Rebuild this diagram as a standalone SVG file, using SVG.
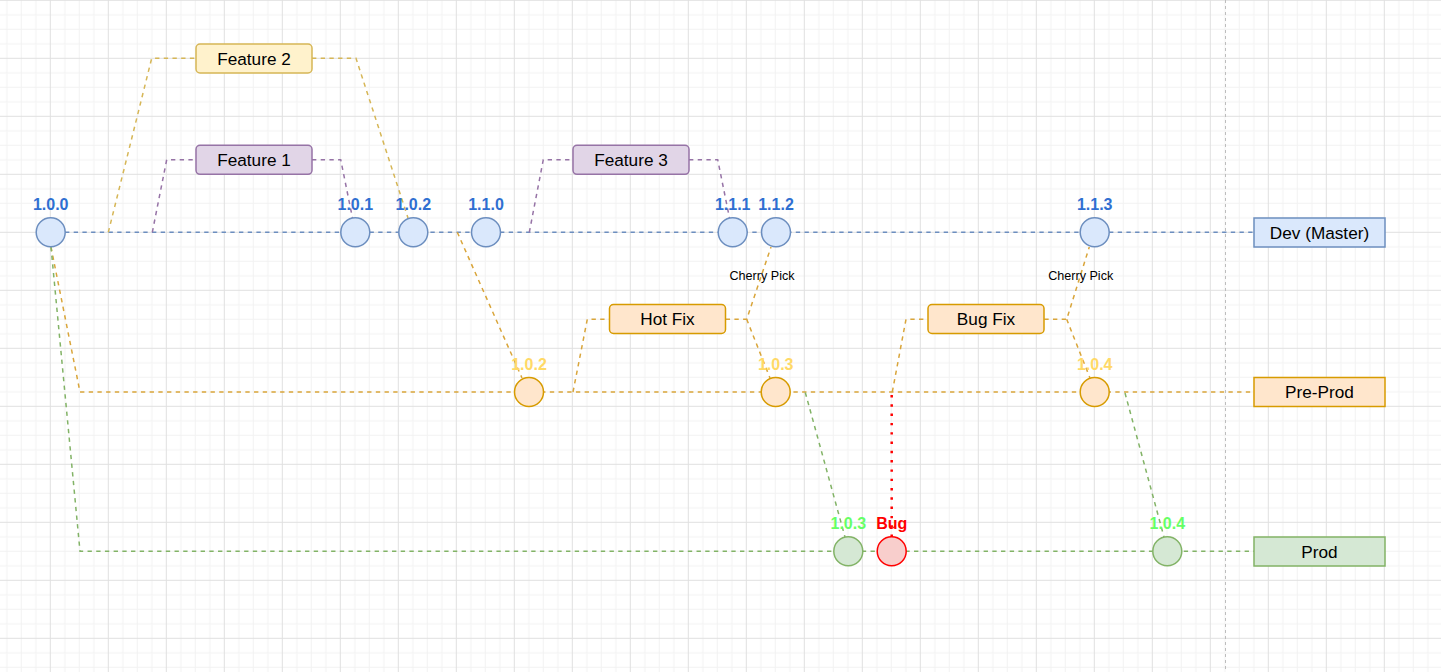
<svg xmlns="http://www.w3.org/2000/svg" width="1441" height="672" viewBox="0 0 1441 672">
<defs>
<pattern id="grid" x="49.8" y="-0.2" width="58" height="58" patternUnits="userSpaceOnUse">
<path d="M15,0 V58 M29.5,0 V58 M44,0 V58 M0,15 H58 M0,29.5 H58 M0,44 H58" stroke="#f2f2f2" stroke-width="1" fill="none"/>
<path d="M0.5,0 V58 M0,0.5 H58" stroke="#e0e0e0" stroke-width="1" fill="none"/>
</pattern>
<style>
.c{stroke-width:1.5;fill:none;stroke-dasharray:4.35 4.35}
.blue{stroke:#6c8ebf}.org{stroke:#d9a53a}.grn{stroke:#82b366}.pur{stroke:#9673a6}.yel{stroke:#d6b656}
.bug{stroke:#ff0000;stroke-width:2.5;fill:none;stroke-dasharray:2.4 6.9}
.n{stroke-width:1.5}
.dev{fill:#dae8fc;stroke:#6c8ebf}.pre{fill:#ffe6cc;stroke:#d79b00}.prd{fill:#d5e8d4;stroke:#82b366}.red{fill:#f8cecc;stroke:#ff0000}
.f2{fill:#fff2cc;stroke:#d6b656}.f1{fill:#e1d5e7;stroke:#9673a6}
.v{font-family:"Liberation Sans",Arial,sans-serif;font-weight:bold;font-size:16px;text-anchor:middle}
.vb{fill:#2f6fd1}.vo{fill:#ffd966}.vg{fill:#66ff66}.vr{fill:#ff0000}
.t{font-family:"Liberation Sans",Arial,sans-serif;font-size:17.2px;text-anchor:middle;fill:#000}
.cp{font-family:"Liberation Sans",Arial,sans-serif;font-size:12.6px;text-anchor:middle;fill:#000}
</style>
</defs>
<rect width="1441" height="672" fill="#ffffff"/>
<rect width="1441" height="672" fill="url(#grid)"/>
<line x1="1225.5" y1="0" x2="1225.5" y2="672" stroke="#bdbdbd" stroke-width="1" stroke-dasharray="3 3"/>

<g id="connectors">
<path class="c blue" d="M65,232.3 H1254"/>
<path class="c org" d="M51,247 L80,392 H1254"/>
<path class="c grn" d="M51,247 L80,551.3 H1254"/>
<path class="c yel" d="M108.3,232.3 L151.7,58.3 H196"/>
<path class="c yel" d="M312,58.3 H356 L408,218"/>
<path class="c pur" d="M152.3,232.3 L166.7,159.7 H196"/>
<path class="c pur" d="M312,159.7 H340.7 L352.5,218"/>
<path class="c pur" d="M529.3,232.3 L543.3,159.7 H572.7"/>
<path class="c pur" d="M689,159.7 H717.7 L729.5,218"/>
<path class="c org" d="M457.3,232.3 L522,378"/>
<path class="c org" d="M573,392 L587.3,319.3 H609"/>
<path class="c org" d="M725.7,319.3 H746.7 L771,247"/>
<path class="c org" d="M746.7,319.3 L770,378"/>
<path class="c org" d="M892.3,392 L906,319.3 H927.7"/>
<path class="c org" d="M1044.3,319.3 H1066.7 L1089.3,247"/>
<path class="c org" d="M1066.7,319.3 L1090,378"/>
<path class="c grn" d="M805.3,392.5 L845,537"/>
<path class="c grn" d="M1125,393 L1164,537"/>
<path class="bug" d="M891.7,395 V537"/>
<text class="cp" x="762" y="280">Cherry Pick</text>
<text class="cp" x="1080.7" y="280">Cherry Pick</text>
</g>

<g id="node-dev-master"><rect class="n dev" x="1254" y="218" width="131" height="29"/><text class="t" x="1319.5" y="238.5">Dev (Master)</text></g>
<g id="node-pre-prod"><rect class="n pre" x="1254" y="377.5" width="131" height="29"/><text class="t" x="1319.5" y="398">Pre-Prod</text></g>
<g id="node-prod"><rect class="n prd" x="1254" y="537" width="131" height="29"/><text class="t" x="1319.5" y="557.5">Prod</text></g>

<g id="node-feature2"><rect class="n f2" x="196" y="44" width="116" height="29" rx="4"/><text class="t" x="254" y="64.5">Feature 2</text></g>
<g id="node-feature1"><rect class="n f1" x="196" y="145.3" width="116" height="29" rx="4"/><text class="t" x="254" y="165.8">Feature 1</text></g>
<g id="node-feature3"><rect class="n f1" x="573" y="145.3" width="116" height="29" rx="4"/><text class="t" x="631" y="165.8">Feature 3</text></g>
<g id="node-hotfix"><rect class="n pre" x="609.5" y="304.5" width="116" height="29" rx="4"/><text class="t" x="667.5" y="325">Hot Fix</text></g>
<g id="node-bugfix"><rect class="n pre" x="928" y="304.5" width="116" height="29" rx="4"/><text class="t" x="986" y="325">Bug Fix</text></g>

<g id="node-dev-100"><circle class="n dev" cx="50.7" cy="232.3" r="14.5"/><text class="v vb" x="50.7" y="210">1.0.0</text></g>
<g id="node-dev-101"><circle class="n dev" cx="355.3" cy="232.3" r="14.5"/><text class="v vb" x="355.3" y="210">1.0.1</text></g>
<g id="node-dev-102"><circle class="n dev" cx="413.3" cy="232.3" r="14.5"/><text class="v vb" x="413.3" y="210">1.0.2</text></g>
<g id="node-dev-110"><circle class="n dev" cx="486" cy="232.3" r="14.5"/><text class="v vb" x="486" y="210">1.1.0</text></g>
<g id="node-dev-111"><circle class="n dev" cx="732.7" cy="232.3" r="14.5"/><text class="v vb" x="732.7" y="210">1.1.1</text></g>
<g id="node-dev-112"><circle class="n dev" cx="776" cy="232.3" r="14.5"/><text class="v vb" x="776" y="210">1.1.2</text></g>
<g id="node-dev-113"><circle class="n dev" cx="1094.7" cy="232.3" r="14.5"/><text class="v vb" x="1094.7" y="210">1.1.3</text></g>

<g id="node-pre-102"><circle class="n pre" cx="529" cy="392" r="14.5"/><text class="v vo" x="529" y="370">1.0.2</text></g>
<g id="node-pre-103"><circle class="n pre" cx="775.7" cy="392" r="14.5"/><text class="v vo" x="775.7" y="370">1.0.3</text></g>
<g id="node-pre-104"><circle class="n pre" cx="1094.7" cy="392" r="14.5"/><text class="v vo" x="1094.7" y="370">1.0.4</text></g>

<g id="node-prod-103"><circle class="n prd" cx="848.3" cy="551.3" r="14.5"/><text class="v vg" x="848.3" y="529">1.0.3</text></g>
<g id="node-bug"><circle class="n red" cx="891.7" cy="551.3" r="14.5"/><text class="v vr" x="891.7" y="529">Bug</text></g>
<g id="node-prod-104"><circle class="n prd" cx="1167.3" cy="551.3" r="14.5"/><text class="v vg" x="1167.3" y="529">1.0.4</text></g>
</svg>
